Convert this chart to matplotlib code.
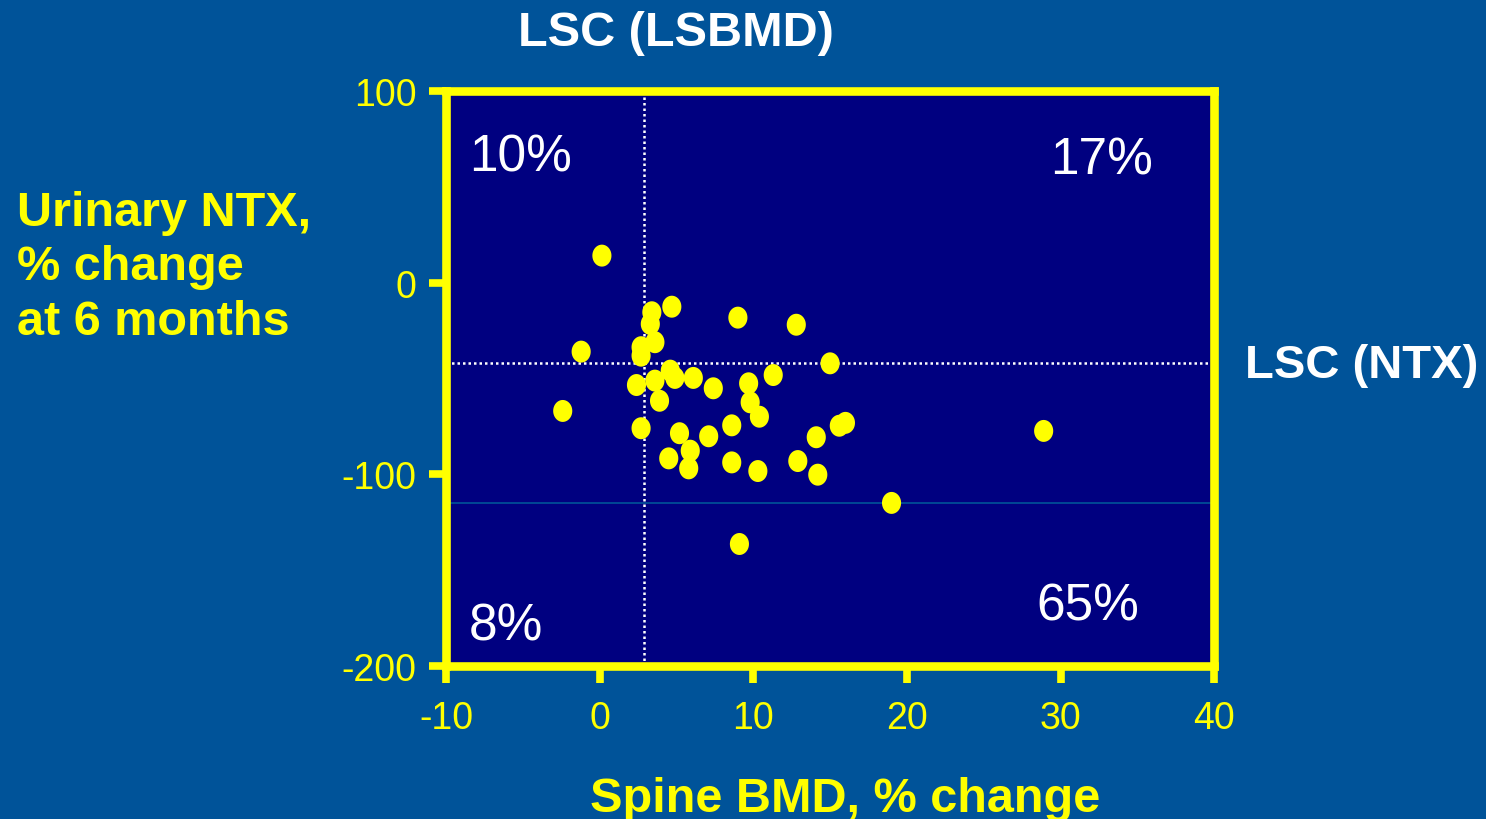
import matplotlib
matplotlib.use("Agg")
import matplotlib.pyplot as plt
import numpy as np
from matplotlib.path import Path

# === Data ===
bmd_change = [0.15, 4.7, 3.4, 3.3, 9.0, 12.8, 3.6, 2.7, 2.7, -1.2,
              15.0, 4.6, 4.9, 3.6, 2.4, 6.1, 11.3, 9.7, 7.4, 3.9,
              9.8, 10.4, -2.4, 15.6, 16.0, 2.7, 5.2, 7.1, 8.6, 14.1,
              5.9, 4.5, 5.8, 8.6, 10.3, 12.9, 14.2, 19.0, 28.9, 9.1]
ntx_change = [14.0, -12.6, -15.5, -21.6, -18.3, -22.0, -31.1, -33.7, -38.1, -36.0,
              -42.1, -45.9, -49.7, -51.1, -53.4, -49.7, -48.2, -52.5, -55.1, -61.6,
              -62.4, -69.9, -66.9, -74.6, -73.1, -75.9, -78.5, -80.1, -74.4, -80.6,
              -87.6, -91.6, -96.8, -93.7, -98.2, -93.0, -100.1, -114.8, -77.3, -136.2]

lsc_bmd = 2.9      # vertical cut-off
lsc_ntx = -42.1    # horizontal cut-off
extra_line = -114.8

x_ticks = [-10, 0, 10, 20, 30, 40]
y_ticks = [-200, -100, 0, 100]

quadrant_labels = ["10%", "17%", "8%", "65%"]

OUTER = "#005399"
INNER = "#000080"
YELLOW = "#ffff00"

plt.rcParams['font.family'] = ['Liberation Sans', 'DejaVu Sans']

fig = plt.figure(figsize=(14.86, 8.2), dpi=100, facecolor=OUTER)
ax = fig.add_axes([0.3001, 0.186, 0.517, 0.7024])
ax.set_facecolor(INNER)

ax.set_xlim(-10, 40)
ax.set_ylim(-200, 100)

# reference lines
ax.axvline(lsc_bmd, color="white", lw=1.8, ls=(0, (1, 1.2)), zorder=2)
ax.axhline(lsc_ntx, color="white", lw=1.8, ls=(0, (1, 1.2)), zorder=2)
ax.axhline(extra_line, color=OUTER, lw=1.2, zorder=1)

# slightly tall ellipse marker
t = np.linspace(0, 2 * np.pi, 60)
ell = Path(np.column_stack([np.cos(t) * 0.87, np.sin(t)]), closed=True)
ax.scatter(bmd_change, ntx_change, marker=ell, s=250, c=YELLOW,
           edgecolors="none", zorder=3)

# spines and ticks
for sp in ax.spines.values():
    sp.set_color(YELLOW)
    sp.set_linewidth(6.2)
ax.set_xticks(x_ticks)
ax.set_yticks(y_ticks)
ax.set_xticklabels([str(v) for v in x_ticks])
ax.set_yticklabels([str(v) for v in y_ticks])
ax.tick_params(axis="both", direction="out", length=12, width=5.5,
               color=YELLOW, labelcolor=YELLOW, labelsize=27)
ax.tick_params(axis="x", pad=12)
ax.tick_params(axis="y", pad=9)
ax.tick_params(top=False, right=False)

# quadrant percentages
qpos = [(0.03, 0.885), (0.786, 0.88), (0.03, 0.07), (0.768, 0.105)]
for lbl, (qx, qy) in zip(quadrant_labels, qpos):
    ax.text(qx, qy, lbl, transform=ax.transAxes, color="white",
            fontsize=37, ha="left", va="center")

# titles
fig.text(676 / 1486, 1 - 33 / 820, "LSC (LSBMD)", color="white",
         fontsize=35, fontweight="bold", ha="center", va="center")
fig.text(1245 / 1486, 1 - 366 / 820, "LSC (NTX)", color="white",
         fontsize=34, fontweight="bold", ha="left", va="center")
fig.text(17 / 1486, 1 - 268 / 820, "Urinary NTX,\n% change\nat 6 months",
         color=YELLOW, fontsize=35, fontweight="bold", ha="left",
         va="center", linespacing=1.27)
fig.text(845 / 1486, 1 - 812 / 820, "Spine BMD, % change", color=YELLOW,
         fontsize=35, fontweight="bold", ha="center", va="baseline")

fig.savefig("out.png", dpi=100, facecolor=OUTER)
